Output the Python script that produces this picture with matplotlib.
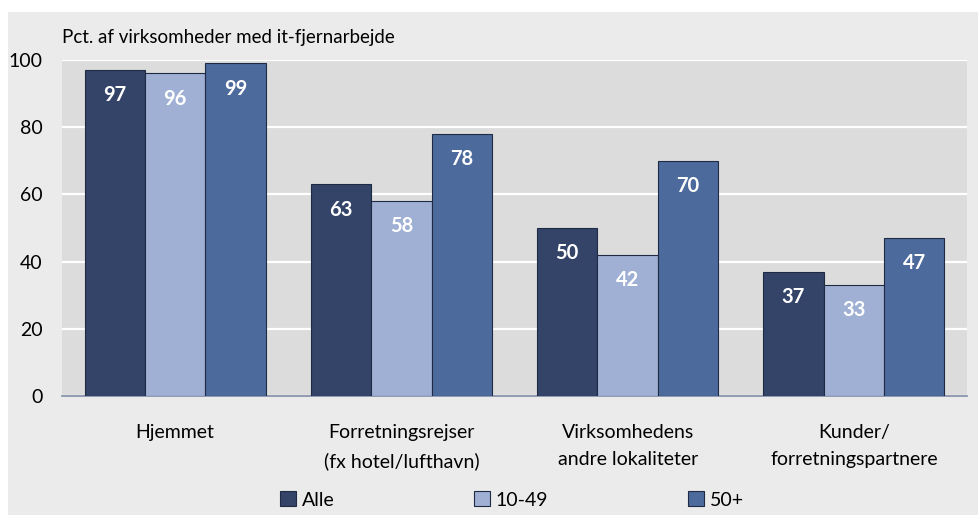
import matplotlib
matplotlib.use("Agg")
import matplotlib.pyplot as plt
import numpy as np
from matplotlib.patches import Rectangle

categories = ["Hjemmet", "Forretningsrejser\n(fx hotel/lufthavn)",
              "Virksomhedens\nandre lokaliteter", "Kunder/\nforretningspartnere"]
series = ["Alle", "10-49", "50+"]
alle = [97, 63, 50, 37]
small = [96, 58, 42, 33]
large = [99, 78, 70, 47]
colors = ["#344468", "#9fb0d4", "#4d6a9c"]

plt.rcParams["font.family"] = ["Lato", "DejaVu Sans"]

fig = plt.figure(figsize=(9.79, 5.15), dpi=100)
fig.patch.set_facecolor("white")
# light grey panel behind everything, thin white margin top/left
fig.add_artist(Rectangle((8 / 979, 0), 1, 1 - 12 / 515, transform=fig.transFigure,
                         facecolor="#ebebeb", edgecolor="none", zorder=-10))

ax = fig.add_axes([62 / 979, 1 - 396 / 515, 905 / 979, 336 / 515])
ax.set_facecolor("#dcdcdc")
x = np.arange(len(categories))
w = 0.267
for i, (vals, name, c) in enumerate(zip([alle, small, large], series, colors)):
    bars = ax.bar(x + (i - 1) * w, vals, w, color=c, edgecolor="#1f2a44",
                  linewidth=0.8, label=name, zorder=3)
    for b, v in zip(bars, vals):
        ax.text(b.get_x() + b.get_width() / 2, v - 7.5, str(v), ha="center",
                va="center", color="white", fontsize=14.5, fontweight="bold", zorder=4)

ax.set_xlim(-0.5, 3.5)
ax.set_ylim(0, 100)
ax.set_yticks(range(0, 101, 20))
ax.yaxis.grid(True, color="white", linewidth=1.6, zorder=0)
ax.set_axisbelow(True)
for s in ["top", "right", "left"]:
    ax.spines[s].set_visible(False)
ax.spines["bottom"].set_color("#7f8aa6")
ax.spines["bottom"].set_linewidth(1.2)
ax.tick_params(axis="both", length=0, labelsize=14, colors="black")
ax.tick_params(axis="y", pad=14)
ax.tick_params(axis="x", pad=20)
ax.set_xticks(x)
ax.set_xticklabels(categories, linespacing=1.75)

fig.text(62 / 979, 1 - 38 / 515, "Pct. af virksomheder med it-fjernarbejde",
         fontsize=13.5, va="center", ha="left")

handles, labels = ax.get_legend_handles_labels()
leg = fig.legend(handles, labels, loc="center", bbox_to_anchor=(512 / 979, 1 - 500 / 515),
                 ncol=3, frameon=False, fontsize=14, columnspacing=7.2,
                 handlelength=0.8, handleheight=0.8, handletextpad=0.3)

fig.savefig("out.png", dpi=100, facecolor=fig.get_facecolor())
